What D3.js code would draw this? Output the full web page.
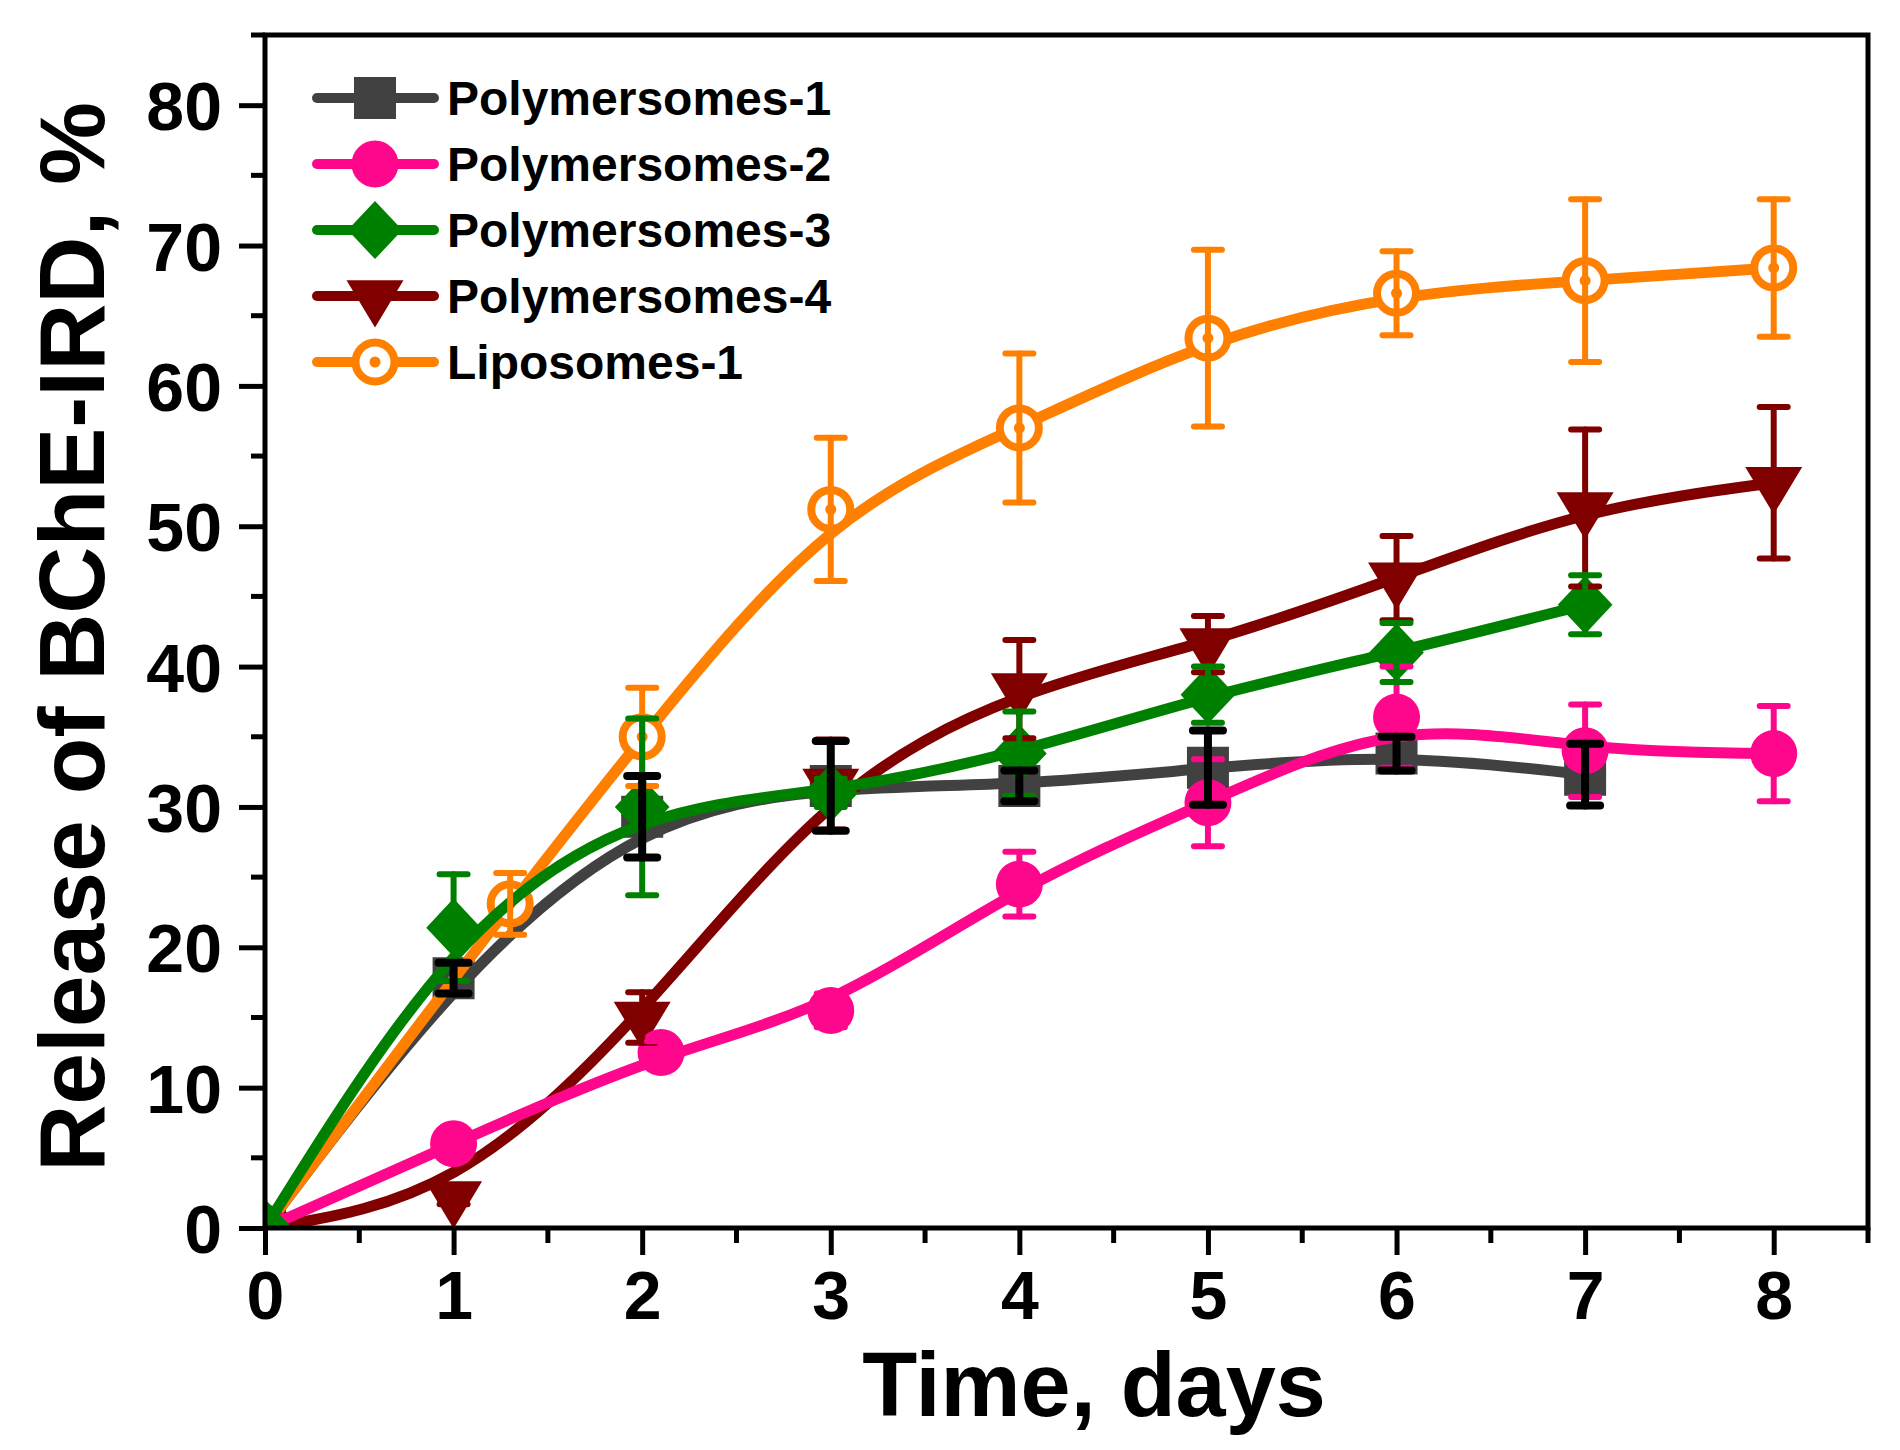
<!DOCTYPE html>
<html>
<head>
<meta charset="utf-8">
<script src="https://cdn.jsdelivr.net/npm/d3@7"></script>
<style>
  html, body { margin: 0; padding: 0; background: #fff; }
  svg text { font-family: "Liberation Sans", Arial, sans-serif; font-weight: bold; fill: #000; }
</style>
</head>
<body>
<div id="chart"></div>
<script>
// values (days, % released, error)
const seriesNames = ["Polymersomes-1", "Polymersomes-2", "Polymersomes-3", "Polymersomes-4", "Liposomes-1"];

const days1 = [0, 1, 2, 3, 4, 5, 6, 7];
const release1 = [0, 17.8, 29.3, 31.5, 31.5, 32.8, 33.8, 32.3];
const err1 = [0, 1.1, 2.9, 3.2, 1.1, 2.65, 1.2, 2.2];

const days2 = [0, 1, 2.1, 3, 4, 5, 6, 7, 8];
const release2 = [0, 6.0, 12.5, 15.5, 24.5, 30.3, 36.4, 34.0, 33.8];
const err2 = [0, 0.5, 0.8, 1.2, 2.3, 3.1, 3.6, 3.3, 3.4];

const days3 = [0, 1, 2, 3, 4, 5, 6, 7];
const release3 = [0, 21.4, 30.0, 31.0, 33.8, 38.0, 41.0, 44.4];
const err3 = [0, 3.8, 6.3, 1.0, 3.0, 2.0, 2.1, 2.1];

const days4 = [0, 1, 2, 3, 4, 5, 6, 7, 8];
const release4 = [0, 2.2, 15.0, 31.6, 38.4, 41.6, 46.3, 51.3, 53.1];
const err4 = [0, 0.5, 1.8, 3.2, 3.5, 2.0, 3.0, 5.6, 5.4];

const daysL = [0, 1.3, 2, 3, 4, 5, 6, 7, 8];
const releaseL = [0, 23.1, 35.0, 51.2, 57.0, 63.4, 66.6, 67.5, 68.4];
const errL = [0, 2.2, 3.5, 5.1, 5.3, 6.3, 3.0, 5.8, 4.9];

const xTicks = [0, 1, 2, 3, 4, 5, 6, 7, 8];
const yTicks = [0, 10, 20, 30, 40, 50, 60, 70, 80];

// custom marker shapes, size argument = nominal width in px
const squareSym = { draw(c, s) { const h = s / 2; c.rect(-h, -h, s, s); } };
const circleSym = { draw(c, s) { const r = s / 2; c.moveTo(r, 0); c.arc(0, 0, r, 0, 2 * Math.PI); } };
const diamondSym = { draw(c, s) { const w = s * 0.48, h = s * 0.51;
  c.moveTo(0, -h); c.lineTo(w, 0); c.lineTo(0, h); c.lineTo(-w, 0); c.closePath(); } };
const triDownSym = { draw(c, s) { const w = s / 2, h = s * 0.83;
  c.moveTo(-w, -h / 3); c.lineTo(w, -h / 3); c.lineTo(0, 2 * h / 3); c.closePath(); } };

const series = [
  { name: seriesNames[0], x: days1, y: release1, e: err1, color: "#414141", errColor: "#000", sym: squareSym, size: 42, open: false },
  { name: seriesNames[3], x: days4, y: release4, e: err4, color: "#800000", errColor: "#800000", sym: triDownSym, size: 57, open: false },
  { name: seriesNames[4], x: daysL, y: releaseL, e: errL, color: "#ff8000", errColor: "#ff8000", sym: circleSym, size: 39, open: true },
  { name: seriesNames[1], x: days2, y: release2, e: err2, color: "#ff078c", errColor: "#ff078c", sym: circleSym, size: 47, open: false },
  { name: seriesNames[2], x: days3, y: release3, e: err3, color: "#008000", errColor: "#008000", sym: diamondSym, size: 57, open: false },
];

const width = 1900, height = 1450;
const plot = { left: 265, right: 1868, top: 35, bottom: 1228 };

const svg = d3.select("#chart").append("svg")
  .attr("width", width).attr("height", height);

const xScale = d3.scaleLinear().domain([0, 8.5]).range([plot.left, plot.right]);
const yScale = d3.scaleLinear().domain([0, 85]).range([plot.bottom, plot.top]);

svg.append("defs").append("clipPath").attr("id", "clip")
  .append("rect")
  .attr("x", plot.left).attr("y", plot.top)
  .attr("width", plot.right - plot.left).attr("height", plot.bottom - plot.top);

// axes with ticks outside
const xAxis = d3.axisBottom(xScale).tickValues(xTicks).tickSize(27).tickPadding(16).tickFormat(d3.format("d"));
const yAxis = d3.axisLeft(yScale).tickValues(yTicks).tickSize(26).tickPadding(17).tickFormat(d3.format("d"));

const gx = svg.append("g").attr("transform", `translate(0,${plot.bottom})`).call(xAxis);
const gy = svg.append("g").attr("transform", `translate(${plot.left},0)`).call(yAxis);
[gx, gy].forEach(g => {
  g.select(".domain").remove();
  g.selectAll(".tick line").attr("stroke", "#000").attr("stroke-width", 5);
  g.selectAll(".tick text").style("font-size", "68px");
});
gx.selectAll(".tick text").attr("dy", "0.71em");
gy.selectAll(".tick text").attr("dy", "0.36em");

// minor ticks
svg.append("g").selectAll("line")
  .data(d3.range(0.5, 8.6, 1))
  .join("line")
  .attr("x1", d => xScale(d)).attr("x2", d => xScale(d))
  .attr("y1", plot.bottom).attr("y2", plot.bottom + 15)
  .attr("stroke", "#000").attr("stroke-width", 5);
svg.append("g").selectAll("line")
  .data(d3.range(5, 86, 10))
  .join("line")
  .attr("x1", plot.left - 14).attr("x2", plot.left)
  .attr("y1", d => yScale(d)).attr("y2", d => yScale(d))
  .attr("stroke", "#000").attr("stroke-width", 5);

// curves and markers
const line = d3.line().curve(d3.curveBasis).x(d => xScale(d[0])).y(d => yScale(d[1]));
const dataLayer = svg.append("g").attr("clip-path", "url(#clip)");

series.forEach(s => {
  const pts = s.x.map((x, i) => [x, s.y[i]]);
  dataLayer.append("path")
    .datum(pts)
    .attr("d", line)
    .attr("fill", "none")
    .attr("stroke", s.color)
    .attr("stroke-width", 11);
  drawMarkers(dataLayer, s, pts);
});

function drawMarkers(g, s, pts) {
  const sym = d3.symbol().type(s.sym).size(s.size);
  g.selectAll(null)
    .data(pts)
    .join("path")
    .attr("transform", d => `translate(${xScale(d[0])},${yScale(d[1])})`)
    .attr("d", sym)
    .attr("fill", s.open ? "#fff" : s.color)
    .attr("stroke", s.open ? s.color : "none")
    .attr("stroke-width", s.open ? 8 : 0);
  if (s.open) {
    g.selectAll(null)
      .data(pts)
      .join("circle")
      .attr("cx", d => xScale(d[0])).attr("cy", d => yScale(d[1]))
      .attr("r", 5.5)
      .attr("fill", s.color);
  }
}

// error bars on top, black ones last
const errLayer = svg.append("g").attr("stroke-linecap", "round");
[...series.filter(s => s.errColor !== "#000"), series[0]].forEach(s => {
  const rows = s.x.map((x, i) => ({ x, y: s.y[i], e: s.e[i] })).filter(d => d.e > 0);
  const black = s.errColor === "#000";
  const half = black ? 15 : 14;
  const g = errLayer.append("g").attr("stroke", s.errColor).attr("stroke-width", black ? 8 : 6);
  g.selectAll(".v").data(rows).join("line")
    .attr("x1", d => xScale(d.x)).attr("x2", d => xScale(d.x))
    .attr("y1", d => yScale(d.y - d.e)).attr("y2", d => yScale(d.y + d.e));
  g.selectAll(".top").data(rows).join("line")
    .attr("x1", d => xScale(d.x) - half).attr("x2", d => xScale(d.x) + half)
    .attr("y1", d => yScale(d.y + d.e)).attr("y2", d => yScale(d.y + d.e));
  g.selectAll(".bot").data(rows).join("line")
    .attr("x1", d => xScale(d.x) - half).attr("x2", d => xScale(d.x) + half)
    .attr("y1", d => yScale(d.y - d.e)).attr("y2", d => yScale(d.y - d.e));
});

// frame
svg.append("rect")
  .attr("x", plot.left).attr("y", plot.top)
  .attr("width", plot.right - plot.left).attr("height", plot.bottom - plot.top)
  .attr("fill", "none").attr("stroke", "#000").attr("stroke-width", 5);

// axis titles
svg.append("text")
  .attr("x", 1094).attr("y", 1416)
  .attr("text-anchor", "middle")
  .style("font-size", "90px")
  .text("Time, days");

svg.append("text")
  .attr("transform", "translate(104,637) rotate(-90)")
  .attr("text-anchor", "middle")
  .style("font-size", "93px")
  .text("Release of BChE-IRD, %");

// legend
const legendOrder = [0, 3, 4, 1, 2].map(i => series[i]);
const legend = svg.append("g");
legendOrder.forEach((s, i) => {
  const cy = 98 + i * 66;
  const row = legend.append("g").attr("transform", `translate(0,${cy})`);
  row.append("line")
    .attr("x1", 317).attr("x2", 434).attr("y1", 0).attr("y2", 0)
    .attr("stroke", s.color).attr("stroke-width", 10).attr("stroke-linecap", "round");
  drawMarkers(row, s, [[xScale.invert(375), yScale.invert(0)]]);
  row.append("text")
    .attr("x", 447).attr("y", 17)
    .style("font-size", "48px")
    .text(s.name);
});
</script>
</body>
</html>
